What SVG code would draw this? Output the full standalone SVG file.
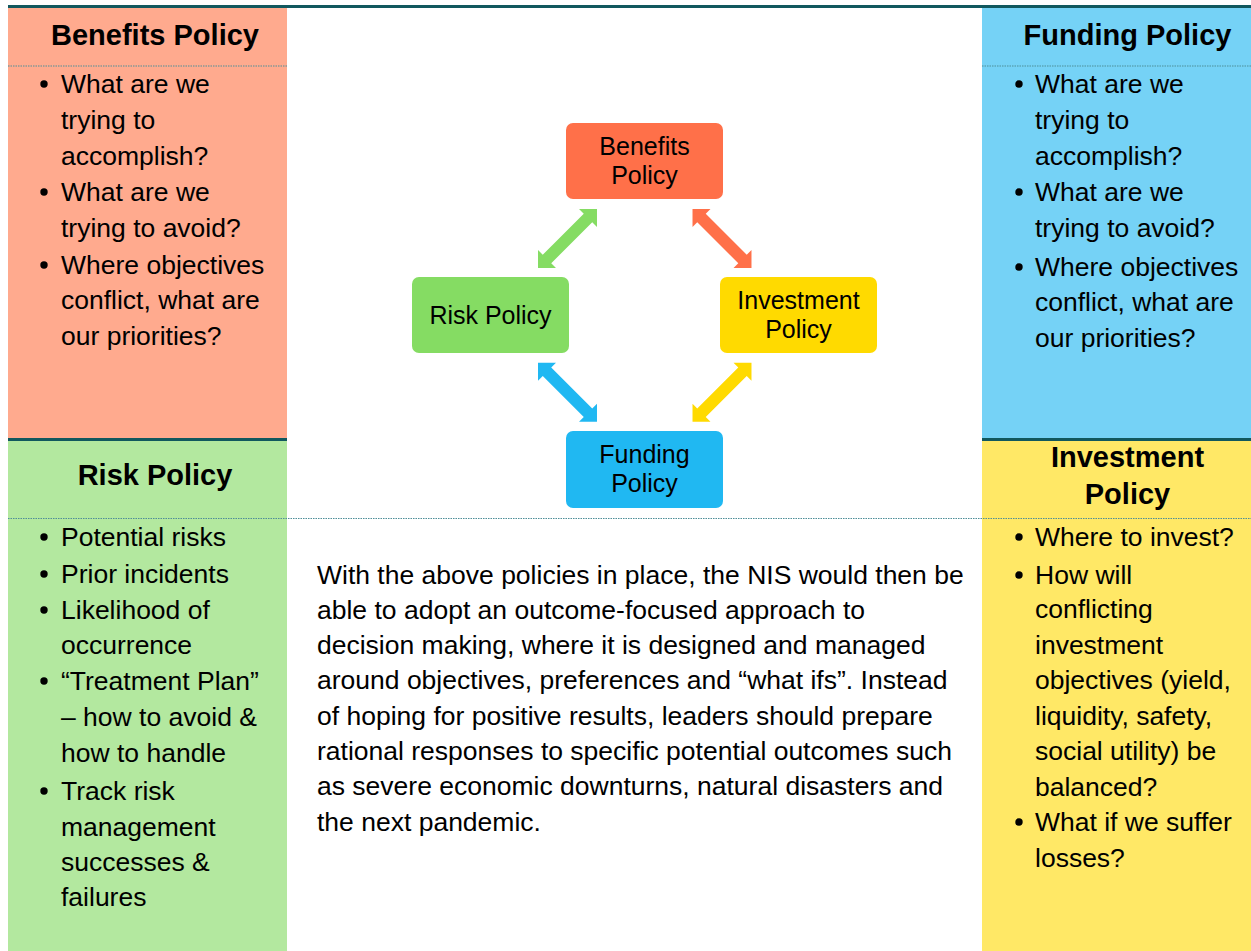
<svg xmlns="http://www.w3.org/2000/svg" width="1251" height="951" viewBox="0 0 1251 951">
  <style>
    .body { font-family: "Liberation Sans", Arial, sans-serif; font-size: 26.5px; fill: #000; }
    .head { font-family: "Liberation Sans", Arial, sans-serif; font-size: 29px; font-weight: bold; fill: #000; text-anchor: middle; }
    .node { font-family: "Liberation Sans", Arial, sans-serif; font-size: 25px; fill: #000; text-anchor: middle; }
    .rule { stroke: #11585E; stroke-width: 3; }
    .dots { stroke: #4E8E98; stroke-width: 1.2; stroke-dasharray: 1.5 1; fill: none; }
    .dot { fill: #000; }
  </style>
  <defs>
    <path id="dbl" d="M -41.7 0 L -29 -12.7 L -29 -6 L 29 -6 L 29 -12.7 L 41.7 0 L 29 12.7 L 29 6 L -29 6 L -29 12.7 Z"/>
  </defs>

  <rect width="1251" height="951" fill="#FFFFFF"/>

  <!-- side panels -->
  <g id="panel-benefits">
    <rect x="8" y="8" width="279" height="431" fill="#FFAA8E"/>
    <text class="head" x="155" y="45">Benefits Policy</text>
    <line class="dots" x1="8" y1="66" x2="287" y2="66"/>
    <circle class="dot" cx="44" cy="84" r="3.7"/>
    <text class="body" x="61" y="93">What are we</text>
    <text class="body" x="61" y="129">trying to</text>
    <text class="body" x="61" y="165">accomplish?</text>
    <circle class="dot" cx="44" cy="192" r="3.7"/>
    <text class="body" x="61" y="201">What are we</text>
    <text class="body" x="61" y="237">trying to avoid?</text>
    <circle class="dot" cx="44" cy="265" r="3.7"/>
    <text class="body" x="61" y="274">Where objectives</text>
    <text class="body" x="61" y="309">conflict, what are</text>
    <text class="body" x="61" y="345">our priorities?</text>
  </g>

  <g id="panel-funding">
    <rect x="982" y="8" width="269" height="431" fill="#75D2F6"/>
    <text class="head" x="1127.5" y="45">Funding Policy</text>
    <line class="dots" x1="982" y1="66" x2="1251" y2="66"/>
    <circle class="dot" cx="1019" cy="84" r="3.7"/>
    <text class="body" x="1035" y="93">What are we</text>
    <text class="body" x="1035" y="129">trying to</text>
    <text class="body" x="1035" y="165">accomplish?</text>
    <circle class="dot" cx="1019" cy="192" r="3.7"/>
    <text class="body" x="1035" y="201">What are we</text>
    <text class="body" x="1035" y="237">trying to avoid?</text>
    <circle class="dot" cx="1019" cy="267" r="3.7"/>
    <text class="body" x="1035" y="276">Where objectives</text>
    <text class="body" x="1035" y="311">conflict, what are</text>
    <text class="body" x="1035" y="347">our priorities?</text>
  </g>

  <g id="panel-risk">
    <rect x="8" y="439" width="279" height="512" fill="#B3E89F"/>
    <text class="head" x="155" y="485">Risk Policy</text>
    <circle class="dot" cx="44" cy="537" r="3.7"/>
    <text class="body" x="61" y="546">Potential risks</text>
    <circle class="dot" cx="44" cy="574" r="3.7"/>
    <text class="body" x="61" y="583">Prior incidents</text>
    <circle class="dot" cx="44" cy="610" r="3.7"/>
    <text class="body" x="61" y="619">Likelihood of</text>
    <text class="body" x="61" y="654">occurrence</text>
    <circle class="dot" cx="44" cy="681" r="3.7"/>
    <text class="body" x="61" y="690">“Treatment Plan”</text>
    <text class="body" x="61" y="726">– how to avoid &amp;</text>
    <text class="body" x="61" y="762">how to handle</text>
    <circle class="dot" cx="44" cy="791" r="3.7"/>
    <text class="body" x="61" y="800">Track risk</text>
    <text class="body" x="61" y="836">management</text>
    <text class="body" x="61" y="871">successes &amp;</text>
    <text class="body" x="61" y="906">failures</text>
  </g>

  <g id="panel-investment">
    <rect x="982" y="439" width="269" height="512" fill="#FFE866"/>
    <text class="head" x="1127.5" y="467">Investment</text>
    <text class="head" x="1127.5" y="504">Policy</text>
    <circle class="dot" cx="1019" cy="537" r="3.7"/>
    <text class="body" x="1035" y="546">Where to invest?</text>
    <circle class="dot" cx="1019" cy="575" r="3.7"/>
    <text class="body" x="1035" y="584">How will</text>
    <text class="body" x="1035" y="618">conflicting</text>
    <text class="body" x="1035" y="654">investment</text>
    <text class="body" x="1035" y="689">objectives (yield,</text>
    <text class="body" x="1035" y="725">liquidity, safety,</text>
    <text class="body" x="1035" y="760">social utility) be</text>
    <text class="body" x="1035" y="796">balanced?</text>
    <circle class="dot" cx="1019" cy="822" r="3.7"/>
    <text class="body" x="1035" y="831">What if we suffer</text>
    <text class="body" x="1035" y="867">losses?</text>
  </g>

  <!-- rules -->
  <line class="rule" x1="8" y1="6.5" x2="1251" y2="6.5"/>
  <line class="rule" x1="8" y1="439.5" x2="287" y2="439.5"/>
  <line class="rule" x1="982" y1="439.5" x2="1251" y2="439.5"/>
  <line class="dots" x1="8" y1="518.5" x2="1251" y2="518.5"/>

  <!-- policy cycle -->
  <g id="connectors">
    <use href="#dbl" fill="#85DC63" transform="translate(567.5 238.5) rotate(-45)"/>
    <use href="#dbl" fill="#FF7049" transform="translate(722 238.5) rotate(45)"/>
    <use href="#dbl" fill="#20B8F2" transform="translate(567.5 392.3) rotate(45)"/>
    <use href="#dbl" fill="#FFDA00" transform="translate(722 392.3) rotate(-45)"/>
  </g>

  <g id="node-benefits">
    <rect x="566" y="123" width="157" height="76" rx="7" fill="#FF7049"/>
    <text class="node" x="644.5" y="155">Benefits</text>
    <text class="node" x="644.5" y="184">Policy</text>
  </g>
  <g id="node-risk">
    <rect x="412" y="277" width="157" height="76" rx="7" fill="#85DC63"/>
    <text class="node" x="490.5" y="324">Risk Policy</text>
  </g>
  <g id="node-investment">
    <rect x="720" y="277" width="157" height="76" rx="7" fill="#FFDA00"/>
    <text class="node" x="798.5" y="309">Investment</text>
    <text class="node" x="798.5" y="338">Policy</text>
  </g>
  <g id="node-funding">
    <rect x="566" y="431" width="157" height="77" rx="7" fill="#20B8F2"/>
    <text class="node" x="644.5" y="463">Funding</text>
    <text class="node" x="644.5" y="492">Policy</text>
  </g>

  <!-- closing paragraph -->
  <g id="summary">
    <text class="body" x="317" y="584">With the above policies in place, the NIS would then be</text>
    <text class="body" x="317" y="619">able to adopt an outcome-focused approach to</text>
    <text class="body" x="317" y="654">decision making, where it is designed and managed</text>
    <text class="body" x="317" y="689">around objectives, preferences and “what ifs”. Instead</text>
    <text class="body" x="317" y="725">of hoping for positive results, leaders should prepare</text>
    <text class="body" x="317" y="760">rational responses to specific potential outcomes such</text>
    <text class="body" x="317" y="795">as severe economic downturns, natural disasters and</text>
    <text class="body" x="317" y="831">the next pandemic.</text>
  </g>
</svg>
